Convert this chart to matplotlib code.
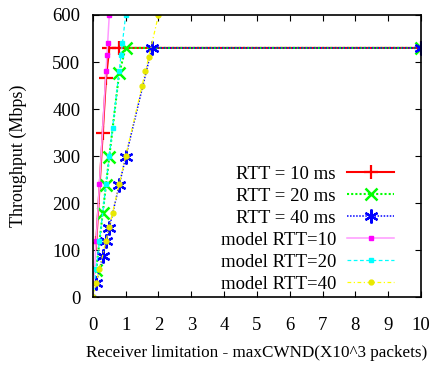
import matplotlib
matplotlib.use('Agg')
import matplotlib.pyplot as plt

plt.rcParams['font.family'] = ['Liberation Serif', 'DejaVu Serif']

# measured throughput (Mbps) vs maxCWND (x10^3 packets)
rtt10_x = [0.1, 0.3, 0.4, 0.5, 0.8, 10]
rtt10_y = [115, 349, 466, 530, 530, 530]
rtt20_x = [0.1, 0.3, 0.4, 0.5, 0.8, 1.0, 10]
rtt20_y = [58, 179, 239, 299, 476, 530, 530]
rtt40_x = [0.1, 0.3, 0.4, 0.5, 0.8, 1.0, 1.8, 10]
rtt40_y = [30, 88, 120, 148, 238, 298, 530, 530]

# model curves
model10_x = [0, 0.1, 0.2, 0.4, 0.43, 0.45, 0.5]
model10_y = [0, 120, 240, 480, 516, 540, 600]
model20_x = [0, 0.1, 0.2, 0.4, 0.5, 0.6, 0.8, 0.86, 0.9, 1.0]
model20_y = [0, 60, 120, 240, 300, 360, 480, 516, 540, 600]
model40_x = [0, 0.1, 0.2, 0.4, 0.5, 0.6, 0.8, 1.0, 1.5, 1.6, 1.7, 2.0]
model40_y = [0, 30, 60, 120, 150, 180, 240, 300, 450, 480, 510, 600]

xticks = list(range(0, 11))
yticks = list(range(0, 601, 100))

fig = plt.figure(figsize=(4.3, 3.65), dpi=100)
ax = fig.add_axes([0.216, 0.185, 0.763, 0.774])

ax.plot(rtt10_x, rtt10_y, color='#ff0000', lw=1.5, ls='-', marker='+', ms=10, mew=1.6,
        label='RTT = 10 ms')
ax.plot(rtt20_x, rtt20_y, color='#00ff00', lw=1.5, ls=(0, (1, 1)), marker='x', ms=8.5, mew=1.8,
        label='RTT = 20 ms')
ax.plot(rtt40_x, rtt40_y, color='#0000ff', lw=1.1, ls=(0, (1, 1)), marker=(6, 2, 0), ms=10, mew=1.6,
        label='RTT = 40 ms')
ax.plot(model10_x, model10_y, color='#ff99ff', lw=1.1, ls='-', marker='s', ms=3.5,
        mfc='#ff00ff', mec='#ff00ff', label='model RTT=10')
ax.plot(model20_x, model20_y, color='#00ffff', lw=0.9, ls=(0, (3, 2)), marker='s', ms=3.5,
        mfc='#00ffff', mec='#00ffff', label='model RTT=20')
ax.plot(model40_x, model40_y, color='#ffff00', lw=0.9, ls=(0, (3, 2, 1, 2)), marker='o', ms=3.5,
        mfc='#e8e800', mec='#e8e800', label='model RTT=40')

ax.set_xlim(0, 10)
ax.set_ylim(0, 600)
ax.set_xticks(xticks)
ax.set_yticks(yticks)
ax.tick_params(direction='in', top=True, right=True, length=4, width=0.8,
               labelsize=13.5)
ax.tick_params(axis='x', pad=14)
ax.tick_params(axis='y', pad=9)
for s in ax.spines.values():
    s.set_linewidth(1.2)

ax.set_xlabel('Receiver limitation - maxCWND(X10^3 packets)', fontsize=12.3, labelpad=8)
ax.set_ylabel('Throughput (Mbps)', fontsize=13, labelpad=18)

ax.legend(loc='upper right', bbox_to_anchor=(0.918, 0.466), frameon=False,
          markerfirst=False, fontsize=13.5, handlelength=2.5, handletextpad=0.6,
          labelspacing=0.26, borderpad=0, borderaxespad=0)

fig.savefig('out.png', dpi=100)
